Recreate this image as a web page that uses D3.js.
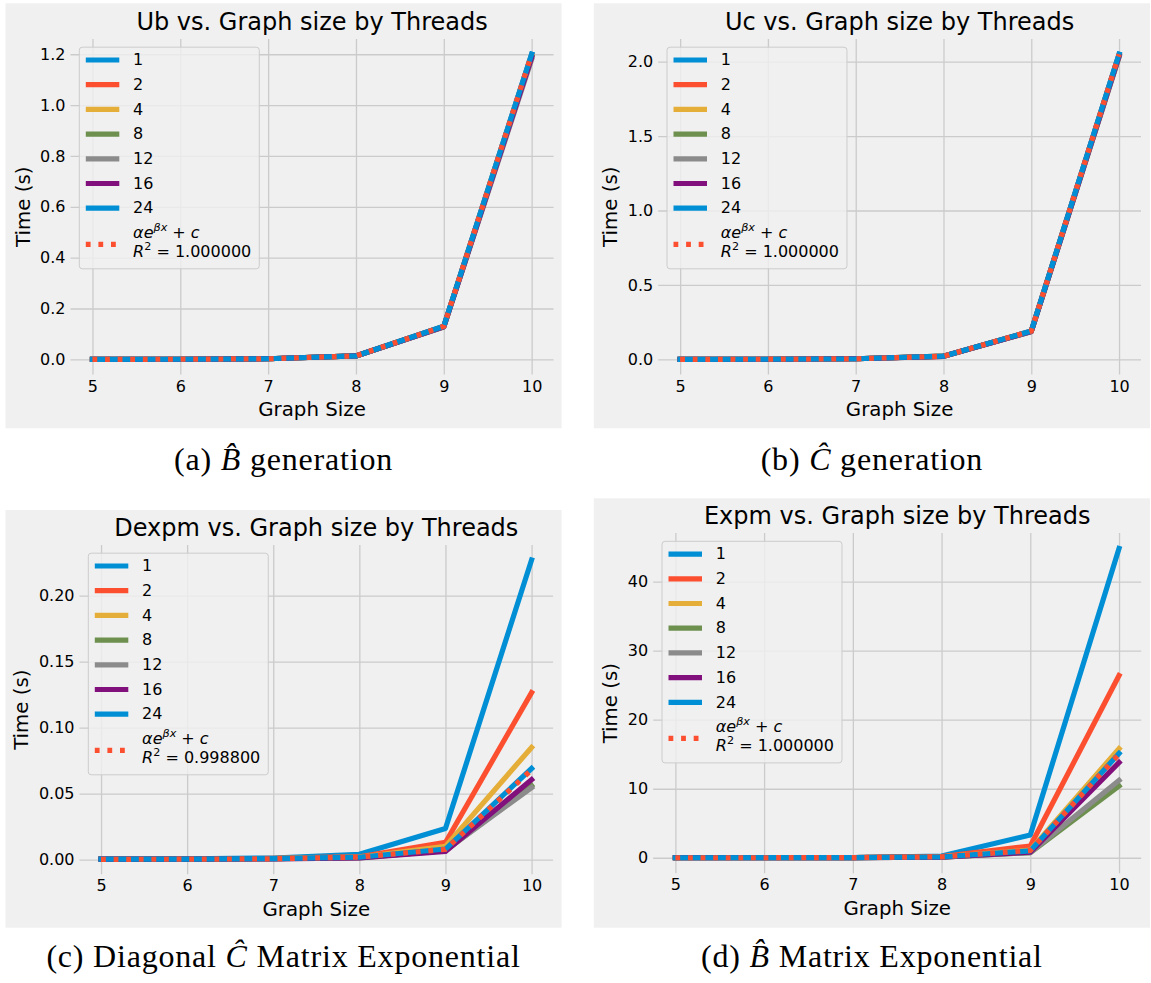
<!DOCTYPE html>
<html lang="en">

<head>
  <meta charset="UTF-8">
  <title>Timing vs. Graph size by Threads</title>
  <script src="https://d3js.org/d3.v7.min.js"></script>
  <style>
    body {
      margin: 0;
      background: #ffffff;
    }

    svg {
      display: block;
    }
  </style>
</head>

<body>
  <svg id="chart" width="1151" height="983"></svg>
  <script>
    // shared categories
    const graphSizes = [5, 6, 7, 8, 9, 10];
    const threadCounts = ["1", "2", "4", "8", "12", "16", "24"];
    const threadColors = ["#008fd5", "#fc4f30", "#e5ae38", "#6d904f", "#8b8b8b", "#810f7c", "#008fd5"];
    const fitColor = "#fc4f30";
    const xTicks = [5, 6, 7, 8, 9, 10];

    // (a) Ub, seconds, one row per thread count
    const ubTimes = [
      [0.0001, 0.0004, 0.0024, 0.0135, 0.130, 1.200],
      [0.0001, 0.0004, 0.0024, 0.0134, 0.129, 1.196],
      [0.0001, 0.0004, 0.0024, 0.0134, 0.129, 1.194],
      [0.0001, 0.0004, 0.0023, 0.0133, 0.128, 1.190],
      [0.0001, 0.0004, 0.0023, 0.0132, 0.127, 1.180],
      [0.0001, 0.0004, 0.0023, 0.0133, 0.128, 1.188],
      [0.0001, 0.0004, 0.0024, 0.0135, 0.130, 1.200]
    ];
    const ubFit = [0.0000, 0.0004, 0.0023, 0.0135, 0.130, 1.200];
    const ubTicks = [0, 0.2, 0.4, 0.6, 0.8, 1.0, 1.2];

    // (b) Uc
    const ucTimes = [
      [0.0002, 0.0008, 0.0040, 0.021, 0.190, 2.050],
      [0.0002, 0.0008, 0.0040, 0.021, 0.189, 2.045],
      [0.0002, 0.0008, 0.0039, 0.021, 0.188, 2.040],
      [0.0002, 0.0008, 0.0039, 0.020, 0.187, 2.035],
      [0.0002, 0.0008, 0.0039, 0.020, 0.186, 2.030],
      [0.0002, 0.0008, 0.0039, 0.020, 0.187, 2.038],
      [0.0002, 0.0008, 0.0040, 0.021, 0.190, 2.050]
    ];
    const ucFit = [0.0000, 0.0008, 0.0039, 0.021, 0.190, 2.050];
    const ucTicks = [0, 0.5, 1.0, 1.5, 2.0];

    // (c) Dexpm
    const dexpmTimes = [
      [0.0003, 0.0005, 0.0012, 0.0040, 0.0235, 0.227],
      [0.0003, 0.0004, 0.0009, 0.0022, 0.0130, 0.1265],
      [0.0003, 0.0004, 0.0008, 0.0018, 0.0100, 0.085],
      [0.0003, 0.0004, 0.0007, 0.0014, 0.0068, 0.056],
      [0.0003, 0.0004, 0.0007, 0.0013, 0.0070, 0.0545],
      [0.0003, 0.0004, 0.0006, 0.0012, 0.0062, 0.0605],
      [0.0003, 0.0004, 0.0008, 0.0018, 0.0080, 0.069]
    ];
    const dexpmFit = [0.0002, 0.0003, 0.0006, 0.0019, 0.0078, 0.068];
    const dexpmTicks = [0, 0.05, 0.10, 0.15, 0.20];

    // (d) Expm
    const expmTimes = [
      [0.002, 0.005, 0.03, 0.25, 3.3, 44.8],
      [0.002, 0.004, 0.02, 0.15, 1.7, 26.4],
      [0.002, 0.004, 0.02, 0.12, 1.1, 15.8],
      [0.002, 0.004, 0.02, 0.10, 0.75, 10.4],
      [0.002, 0.004, 0.02, 0.10, 0.75, 11.2],
      [0.002, 0.004, 0.02, 0.10, 0.80, 13.8],
      [0.002, 0.004, 0.02, 0.11, 1.00, 15.1]
    ];
    const expmFit = [0.000, 0.001, 0.02, 0.13, 1.05, 15.0];
    const expmTicks = [0, 10, 20, 30, 40];

    // layout of the four panels (frame = grey figure area, box = axes area)
    const panels = [
      {
        title: "Ub vs. Graph size by Threads", times: ubTimes, fit: ubFit, r2: "1.000000",
        yTicks: ubTicks, fmt: ".1f", frame: [5.5, 3.3, 561.6, 428.3], box: [70.5, 39, 553.6, 374.6],
        caption: ["(a) ", "B", " generation"], capY: 470
      },
      {
        title: "Uc vs. Graph size by Threads", times: ucTimes, fit: ucFit, r2: "1.000000",
        yTicks: ucTicks, fmt: ".1f", frame: [593.8, 3.3, 1150, 428.3], box: [658.2, 39, 1141, 374.6],
        caption: ["(b) ", "C", " generation"], capY: 470
      },
      {
        title: "Dexpm vs. Graph size by Threads", times: dexpmTimes, fit: dexpmFit, r2: "0.998800",
        yTicks: dexpmTicks, fmt: ".2f", frame: [5.5, 510, 561.6, 927.7], box: [79.5, 545, 553.1, 874.3],
        caption: ["(c) Diagonal ", "C", " Matrix Exponential"], capY: 966.7
      },
      {
        title: "Expm vs. Graph size by Threads", times: expmTimes, fit: expmFit, r2: "1.000000",
        yTicks: expmTicks, fmt: "d", frame: [593.8, 498.3, 1150, 927.7], box: [653.2, 533.1, 1141.2, 873.2],
        caption: ["(d) ", "B", " Matrix Exponential"], capY: 966.7
      }
    ];

    const svg = d3.select("#chart");
    const sans = "'DejaVu Sans', sans-serif";
    const lineWidth = 5.2;
    const dotted = "4.8 7.8";

    panels.forEach(drawPanel);

    function drawPanel(p) {
      const [fx0, fy0, fx1, fy1] = p.frame;
      const [x0, y0, x1, y1] = p.box;
      const g = svg.append("g");

      g.append("rect")
        .attr("x", fx0).attr("y", fy0)
        .attr("width", fx1 - fx0).attr("height", fy1 - fy0)
        .attr("fill", "#f0f0f0");

      // matplotlib style 5% margins
      const xExt = d3.extent(graphSizes);
      const xPad = (xExt[1] - xExt[0]) * 0.05;
      const x = d3.scaleLinear().domain([xExt[0] - xPad, xExt[1] + xPad]).range([x0, x1]);
      const yExt = d3.extent(p.times.flat().concat(p.fit));
      const yPad = (yExt[1] - yExt[0]) * 0.05;
      const y = d3.scaleLinear().domain([yExt[0] - yPad, yExt[1] + yPad]).range([y1, y0]);

      const xAxis = g.append("g")
        .attr("transform", `translate(0,${y1})`)
        .call(d3.axisBottom(x).tickValues(xTicks).tickSize(-(y1 - y0)).tickPadding(5.6).tickFormat(d3.format("d")));
      const yAxis = g.append("g")
        .attr("transform", `translate(${x0},0)`)
        .call(d3.axisLeft(y).tickValues(p.yTicks).tickSize(-(x1 - x0)).tickPadding(5).tickFormat(d3.format(p.fmt)));

      [xAxis, yAxis].forEach(a => {
        a.select(".domain").remove();
        a.selectAll(".tick line").attr("stroke", "#cbcbcb").attr("stroke-width", 1.3);
        a.selectAll(".tick text")
          .attr("fill", "#000")
          .style("font-family", sans)
          .style("font-size", "16px");
      });

      const line = d3.line()
        .x((d, i) => x(graphSizes[i]))
        .y(d => y(d));

      p.times.forEach((s, i) => {
        g.append("path")
          .attr("d", line(s))
          .attr("fill", "none")
          .attr("stroke", threadColors[i])
          .attr("stroke-width", lineWidth)
          .attr("stroke-linejoin", "round")
          .attr("stroke-linecap", "square");
      });
      g.append("path")
        .attr("d", line(p.fit))
        .attr("fill", "none")
        .attr("stroke", fitColor)
        .attr("stroke-width", lineWidth)
        .attr("stroke-dasharray", dotted);

      // title and axis labels
      g.append("text")
        .attr("x", (x0 + x1) / 2).attr("y", y0 - 9)
        .attr("text-anchor", "middle")
        .style("font-family", sans).style("font-size", "24px")
        .text(p.title);

      g.append("text")
        .attr("x", (x0 + x1) / 2).attr("y", y1 + 41.5)
        .attr("text-anchor", "middle")
        .style("font-family", sans).style("font-size", "19.8px")
        .text("Graph Size");

      let tickLeft = Infinity;
      yAxis.selectAll(".tick text").each(function () {
        const b = this.getBBox();
        const m = this.parentNode.transform.baseVal.consolidate().matrix;
        tickLeft = Math.min(tickLeft, x0 + m.e + b.x);
      });
      g.append("text")
        .attr("transform", `translate(${tickLeft - 10.5},${(y0 + y1) / 2}) rotate(-90)`)
        .attr("text-anchor", "middle")
        .style("font-family", sans).style("font-size", "19.8px")
        .text("Time (s)");

      // legend
      const lg = g.append("g").attr("transform", `translate(${x0 + 8.3},${y0 + 7.7})`);
      const lgRect = lg.append("rect")
        .attr("rx", 3)
        .attr("fill", "#f0f0f0").attr("fill-opacity", 0.8)
        .attr("stroke", "#cccccc").attr("stroke-width", 1);
      const texts = lg.append("g")
        .style("font-family", sans).style("font-size", "16px")
        .attr("fill", "#000");

      threadCounts.forEach((t, i) => {
        const cy = 13.3 + i * 24.7;
        lg.append("line")
          .attr("x1", 7).attr("x2", 40.5).attr("y1", cy).attr("y2", cy)
          .attr("stroke", threadColors[i]).attr("stroke-width", lineWidth);
        texts.append("text").attr("x", 54.3).attr("y", cy + 5.3).text(t);
      });

      const fy = 197.6;
      lg.append("line")
        .attr("x1", 7).attr("x2", 40.5).attr("y1", fy).attr("y2", fy)
        .attr("stroke", fitColor).attr("stroke-width", lineWidth)
        .attr("stroke-dasharray", dotted);

      const l1 = texts.append("text").attr("x", 54.3).attr("y", fy - 6);
      l1.append("tspan").style("font-style", "italic").text("αe");
      l1.append("tspan").style("font-style", "italic").style("font-size", "11.2px").attr("dy", -7).text("βx");
      l1.append("tspan").attr("dy", 7).text(" + ");
      l1.append("tspan").style("font-style", "italic").text("c");

      const l2 = texts.append("text").attr("x", 54.3).attr("y", fy + 13);
      l2.append("tspan").style("font-style", "italic").text("R");
      l2.append("tspan").style("font-size", "11.2px").attr("dy", -7).text("2");
      l2.append("tspan").attr("dy", 7).text(" = " + p.r2);

      const bb = texts.node().getBBox();
      lgRect.attr("x", 0.5).attr("y", 0.5)
        .attr("width", bb.x + bb.width + 7.5)
        .attr("height", fy + 24);

      // caption under the panel
      const cap = svg.append("text")
        .attr("x", (fx0 + fx1) / 2).attr("y", p.capY)
        .attr("text-anchor", "middle")
        .style("font-family", "'Liberation Serif', 'DejaVu Serif', serif")
        .style("font-size", "32px")
        .style("letter-spacing", "0.8px")
        .attr("fill", "#000");
      cap.append("tspan").text(p.caption[0]);
      cap.append("tspan").style("font-style", "italic").text(p.caption[1] + "\u0302");
      cap.append("tspan").text(p.caption[2]);
    }
  </script>
</body>

</html>
